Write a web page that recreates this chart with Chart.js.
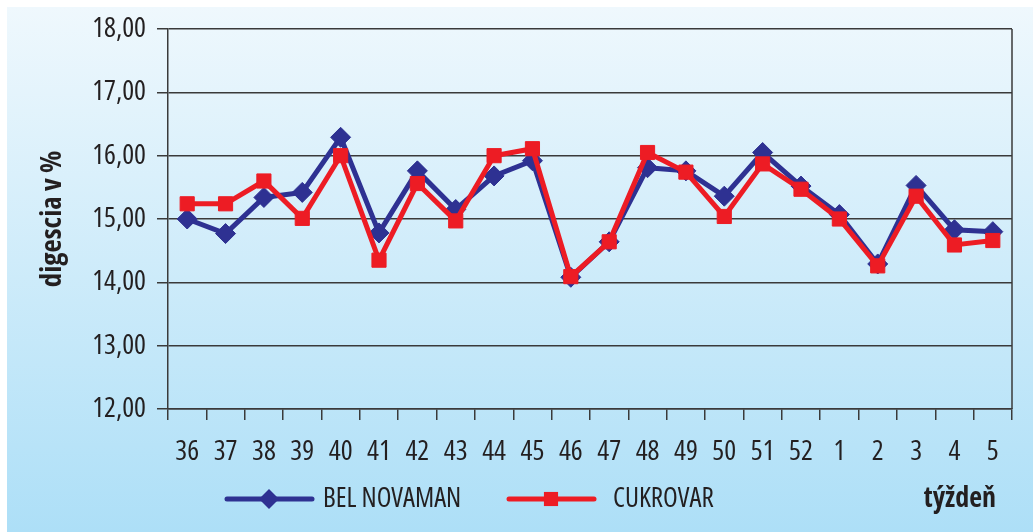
<!DOCTYPE html>
<html>
<head>
<meta charset="utf-8">
<script src="https://cdn.jsdelivr.net/npm/chart.js@4.4.1/dist/chart.umd.min.js"></script>
<style>
  html, body { margin: 0; padding: 0; background: #fff; }
  #wrap { width: 1033px; height: 532px; }
</style>
</head>
<body>
<div id="wrap"><canvas id="digesciaChart" width="1033" height="532"></canvas></div>
<script>
const weeks = ["36", "37", "38", "39", "40", "41", "42", "43", "44", "45", "46",
  "47", "48", "49", "50", "51", "52", "1", "2", "3", "4", "5"];
const belNovaman = [15.00, 14.77, 15.34, 15.42, 16.29, 14.78, 15.76, 15.15, 15.68, 15.92, 14.08,
  14.64, 15.81, 15.76, 15.36, 16.05, 15.52, 15.07, 14.29, 15.53, 14.83, 14.80];
const cukrovar = [15.24, 15.24, 15.60, 15.01, 16.00, 14.35, 15.56, 14.97, 16.00, 16.11, 14.09,
  14.64, 16.05, 15.74, 15.04, 15.87, 15.47, 15.00, 14.26, 15.36, 14.59, 14.66];
const yMin = 12;
const yMax = 18;
const xTitle = "týždeň";
const yTitle = "digescia v %";

// Open Sans has a condensed width; the stretch keyword rides in the weight slot of the font string
const fontFamily = '"Open Sans", "Liberation Sans", sans-serif';
const inkColor = "#231f20";
const gridColor = "#3a3a3a";
const blue = "#2e3192";
const red = "#ed1c24";

const panelBackground = {
  id: "panelBackground",
  beforeDraw: (chart) => {
    const { ctx, width, height } = chart;
    const gradient = ctx.createLinearGradient(0, 7, 0, height);
    gradient.addColorStop(0, "#eff8fd");
    gradient.addColorStop(1, "#addff7");
    ctx.save();
    ctx.fillStyle = "#ffffff";
    ctx.fillRect(0, 0, width, height);
    ctx.fillStyle = gradient;
    ctx.fillRect(7, 7, width - 7, height - 7);
    ctx.restore();
  },
};

const rightBorder = {
  id: "rightBorder",
  beforeDatasetsDraw: (chart) => {
    const { ctx, chartArea } = chart;
    ctx.save();
    ctx.strokeStyle = gridColor;
    ctx.lineWidth = 1.5;
    ctx.beginPath();
    ctx.moveTo(chartArea.right, chartArea.top);
    ctx.lineTo(chartArea.right, chartArea.bottom);
    ctx.stroke();
    ctx.restore();
  },
};

// legend drawn by hand: long line with the marker in the middle
const legendSpots = [
  { lineX: 227, textX: 323 },
  { lineX: 509, textX: 613 },
];

const lineLegend = {
  id: "lineLegend",
  afterDraw: (chart) => {
    const { ctx } = chart;
    const y = 499;
    chart.data.datasets.forEach((dataset, i) => {
      const spot = legendSpots[i];
      ctx.save();
      ctx.strokeStyle = dataset.borderColor;
      ctx.lineWidth = 5;
      ctx.lineCap = "round";
      ctx.beginPath();
      ctx.moveTo(spot.lineX, y);
      ctx.lineTo(spot.lineX + 85, y);
      ctx.stroke();
      ctx.fillStyle = dataset.borderColor;
      ctx.lineWidth = 1;
      Chart.helpers.drawPoint(ctx, {
        pointStyle: dataset.pointStyle,
        radius: dataset.pointRadius,
        rotation: 0,
      }, spot.lineX + 42, y);
      ctx.fillStyle = inkColor;
      ctx.font = `condensed 27px ${fontFamily}`;
      ctx.textBaseline = "middle";
      ctx.textAlign = "left";
      ctx.fillText(dataset.label, spot.textX, y);
      ctx.restore();
    });

    ctx.save();
    ctx.fillStyle = inkColor;
    ctx.font = `bold condensed 28px ${fontFamily}`;
    ctx.textBaseline = "middle";
    ctx.textAlign = "right";
    ctx.fillText(xTitle, 996, y);
    ctx.restore();
  },
};

new Chart(document.getElementById("digesciaChart"), {
  type: "line",
  data: {
    labels: weeks,
    datasets: [
      {
        label: "BEL NOVAMAN",
        data: belNovaman,
        borderColor: blue,
        backgroundColor: blue,
        borderWidth: 5,
        pointStyle: "rectRot",
        pointRadius: 10,
        pointBorderWidth: 1,
        tension: 0,
        order: 1,
      },
      {
        label: "CUKROVAR",
        data: cukrovar,
        borderColor: red,
        backgroundColor: red,
        borderWidth: 5,
        pointStyle: "rect",
        pointRadius: 10,
        pointBorderWidth: 1,
        tension: 0,
        order: 0,
      },
    ],
  },
  options: {
    responsive: false,
    animation: false,
    devicePixelRatio: 1,
    layout: {
      padding: { top: 29, right: 21, bottom: 0, left: 0 },
    },
    plugins: {
      legend: { display: false },
      tooltip: { enabled: false },
    },
    scales: {
      x: {
        type: "category",
        offset: true,
        afterFit: (scale) => {
          scale.height = 123;
        },
        border: { display: true, color: gridColor, width: 1.5 },
        grid: {
          offset: true,
          drawOnChartArea: false,
          drawTicks: true,
          tickLength: 11,
          color: gridColor,
          lineWidth: 1.5,
        },
        ticks: {
          autoSkip: false,
          maxRotation: 0,
          padding: 15,
          color: inkColor,
          font: { family: fontFamily, size: 28, weight: "condensed" },
        },
      },
      y: {
        min: yMin,
        max: yMax,
        afterFit: (scale) => {
          scale.width = 168;
        },
        border: { display: true, color: gridColor, width: 1.5 },
        grid: {
          color: gridColor,
          lineWidth: 1.5,
          tickLength: 11,
        },
        ticks: {
          stepSize: 1,
          padding: 11,
          color: inkColor,
          font: { family: fontFamily, size: 28, weight: "condensed" },
          callback: (value) => value.toFixed(2).replace(".", ","),
        },
        title: {
          display: true,
          text: yTitle,
          color: inkColor,
          font: { family: fontFamily, size: 29, weight: "bold condensed" },
          padding: { top: 35, bottom: 0 },
        },
      },
    },
  },
  plugins: [panelBackground, rightBorder, lineLegend],
});
</script>
</body>
</html>
